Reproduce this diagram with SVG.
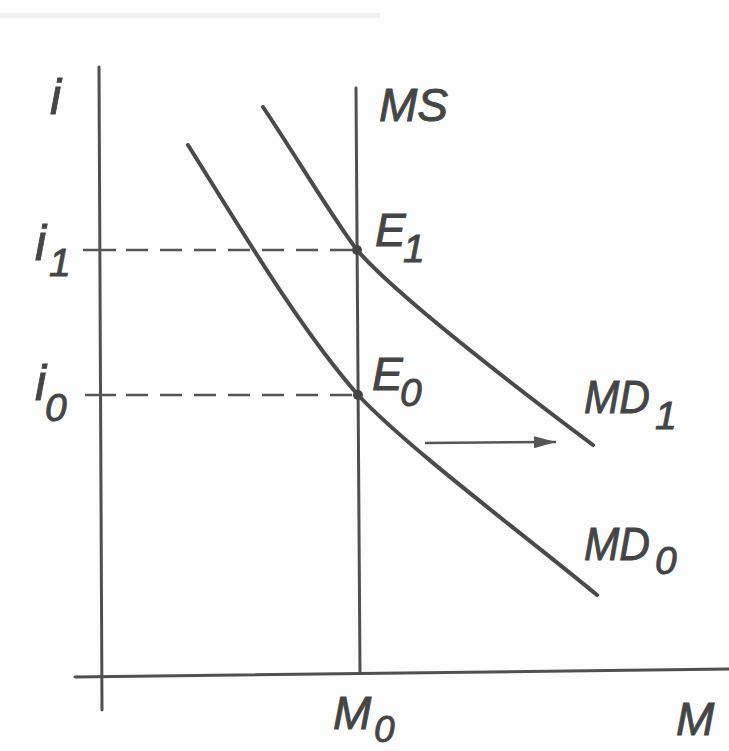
<svg xmlns="http://www.w3.org/2000/svg" width="729" height="751" viewBox="0 0 729 751">
<style>
.ax{stroke:#505050;stroke-width:3;fill:none;stroke-linecap:round}
.cv{stroke:#4a4a4a;stroke-width:4;fill:none;stroke-linecap:round}
.ds{stroke:#555;stroke-width:2.5;fill:none;stroke-dasharray:22 12}
.tk{stroke:#555;stroke-width:2.5}
.t{font-family:"Liberation Sans",Arial,sans-serif;font-style:italic;font-size:46px;fill:#454545;stroke:#454545;stroke-width:0.9}
.s{font-size:39px}
</style>
<defs>
<marker id="ah" viewBox="0 0 22 12" refX="22" refY="6" markerWidth="22" markerHeight="12" markerUnits="userSpaceOnUse" orient="auto">
<path d="M0,0 L22,6 L0,12 Z" fill="#555"/>
</marker>
</defs>
<rect width="729" height="751" fill="#fdfdfd"/>
<rect x="0" y="13" width="380" height="5" fill="#f0f0f0"/>
<g id="axes">
<line class="ax" x1="99" y1="67" x2="102" y2="710"/>
<line class="ax" x1="75" y1="677" x2="729" y2="669"/>
</g>
<g id="connectors">
<line class="tk" x1="83" y1="250" x2="116" y2="250"/>
<line class="ds" x1="126" y1="250" x2="357" y2="250"/>
<line class="tk" x1="85" y1="395" x2="116" y2="395"/>
<line class="ds" x1="126" y1="395" x2="357" y2="395"/>
<line x1="425" y1="443" x2="556" y2="442" stroke="#555" stroke-width="2.5" marker-end="url(#ah)"/>
</g>
<g id="MS">
<line class="ax" x1="356" y1="88" x2="360" y2="673"/>
<text class="t" x="379" y="121">MS</text>
</g>
<g id="MD0">
<path class="cv" d="M188,145 C245,236 301,330 358,395 C410,450 527,537 597,595"/>
<text class="t" x="584" y="560" textLength="66" lengthAdjust="spacingAndGlyphs">MD</text>
<text class="t s" x="655" y="574">0</text>
</g>
<g id="MD1">
<path class="cv" d="M263,107 C294,153 330,214 357,250 C397,296 513,385 593,445"/>
<text class="t" x="584" y="413" textLength="66" lengthAdjust="spacingAndGlyphs">MD</text>
<text class="t s" x="655" y="429">1</text>
</g>
<g id="E1">
<circle cx="357" cy="250" r="5" fill="#444"/>
<text class="t" x="375" y="246">E</text>
<text class="t s" x="403" y="262">1</text>
</g>
<g id="E0">
<circle cx="358" cy="395" r="5" fill="#444"/>
<text class="t" x="372" y="390">E</text>
<text class="t s" x="400" y="406">0</text>
</g>
<g id="labels">
<text class="t" x="50" y="114" style="font-size:50px">i</text>
<text class="t" x="35" y="260" style="font-size:50px">i</text>
<text class="t s" x="49" y="276">1</text>
<text class="t" x="35" y="400" style="font-size:50px">i</text>
<text class="t s" x="45" y="421">0</text>
<text class="t" x="333" y="729">M</text>
<text class="t" x="374" y="742" style="font-size:37px">0</text>
<text class="t" x="676" y="735">M</text>
</g>
</svg>
